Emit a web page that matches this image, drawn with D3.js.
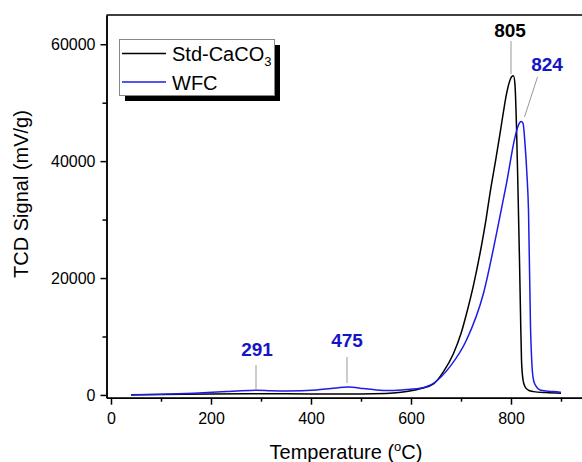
<!DOCTYPE html>
<html>
<head>
<meta charset="utf-8">
<script src="https://cdn.jsdelivr.net/npm/d3@7"></script>
<style>
  body { margin: 0; background: #fff; }
  svg { display: block; font-family: "Liberation Sans", Arial, sans-serif; }
</style>
</head>
<body>
<div class="chart"></div>
<script>
// data
var stdTemp = [40, 100, 200, 300, 400, 500, 550, 580, 600, 620, 645, 665, 685, 700, 711, 725, 738, 750, 758, 770, 778, 785, 791, 797, 802, 805, 808, 811, 814, 817, 819, 821, 824, 828, 835, 845, 870, 900];
var stdSignal = [50, 80, 150, 200, 180, 180, 250, 450, 700, 1100, 1900, 4000, 7100, 10500, 13900, 18800, 24200, 30000, 34500, 40500, 44700, 48500, 51500, 53600, 54500, 54600, 53000, 45900, 35000, 23000, 14000, 6000, 2600, 1400, 800, 570, 400, 300];

var wfcTemp = [40, 100, 165, 231, 260, 291, 320, 351, 411, 440, 475, 505, 531, 560, 598, 618, 645, 678, 711, 745, 771, 791, 808, 815, 820, 824, 828, 832, 835, 839, 842, 845, 850, 858, 875, 895, 900];
var wfcSignal = [0, 100, 290, 570, 720, 800, 720, 680, 850, 1100, 1370, 1100, 850, 750, 970, 1140, 2000, 4840, 9400, 17400, 27600, 36200, 44100, 46200, 46800, 46500, 43000, 37500, 31600, 11700, 5000, 2560, 1500, 850, 650, 500, 450];

var xTicks = [0, 200, 400, 600, 800];
var xMinor = [100, 300, 500, 700, 900];
var yTicks = [0, 20000, 40000, 60000];
var yMinor = [10000, 30000, 50000];

var seriesNames = ["Std-CaCO", "WFC"];
var seriesColors = ["#000000", "#1c1ce6"];

var svgWidth = 582;
var svgHeight = 462;

var svg = d3.select(".chart")
  .append("svg")
  .attr("width", svgWidth)
  .attr("height", svgHeight);

var x = d3.scaleLinear().domain([-9, 979]).range([106.5, 600.5]);
var y = d3.scaleLinear().domain([-470, 65000]).range([397.7, 15]);

// frame top line (right side is cut off in the picture)
svg.append("line")
  .attr("x1", x.range()[0]).attr("x2", 600)
  .attr("y1", y.range()[1]).attr("y2", y.range()[1])
  .attr("stroke", "#000").attr("stroke-width", 1.5);

// x axis
svg.append("g")
  .attr("transform", `translate(0, ${y.range()[0]})`)
  .call(d3.axisBottom(x).tickValues(xTicks).tickSize(7).tickSizeOuter(0).tickPadding(8).tickFormat(d3.format("d")));
svg.append("g")
  .attr("transform", `translate(0, ${y.range()[0]})`)
  .call(d3.axisBottom(x).tickValues(xMinor).tickSize(4).tickSizeOuter(0).tickFormat(""));

// y axis
svg.append("g")
  .attr("transform", `translate(${x.range()[0]}, 0)`)
  .call(d3.axisLeft(y).tickValues(yTicks).tickSize(6).tickSizeOuter(0).tickPadding(5).tickFormat(d3.format("d")));
svg.append("g")
  .attr("transform", `translate(${x.range()[0]}, 0)`)
  .call(d3.axisLeft(y).tickValues(yMinor).tickSize(4).tickSizeOuter(0).tickFormat(""));

svg.selectAll(".domain, .tick line")
  .attr("stroke", "#000").attr("stroke-width", 1.5);
svg.selectAll(".tick text")
  .attr("font-size", 16).attr("fill", "#000")
  .attr("font-family", "Liberation Sans, Arial, sans-serif");

// axis titles
var xTitle = svg.append("text")
  .attr("x", 346).attr("y", 459)
  .attr("text-anchor", "middle")
  .attr("font-size", 20)
  .text("Temperature (");
xTitle.append("tspan").attr("dy", -8).attr("font-size", 13).text("o");
xTitle.append("tspan").attr("dy", 8).text("C)");

svg.append("text")
  .attr("transform", "rotate(-90)")
  .attr("x", -194).attr("y", 28)
  .attr("text-anchor", "middle")
  .attr("font-size", 20)
  .text("TCD Signal (mV/g)");

// curves
var line = d3.line()
  .x(d => x(d[0]))
  .y(d => y(d[1]))
  .curve(d3.curveMonotoneX);

var stdData = stdTemp.map((t, i) => [t, stdSignal[i]]);
var wfcData = wfcTemp.map((t, i) => [t, wfcSignal[i]]);

svg.append("path").datum(stdData)
  .attr("d", line).attr("fill", "none")
  .attr("stroke", seriesColors[0]).attr("stroke-width", 1.5);
svg.append("path").datum(wfcData)
  .attr("d", line).attr("fill", "none")
  .attr("stroke", seriesColors[1]).attr("stroke-width", 1.5);

// peak leader lines and labels
var labelBlue = "#1414c8";
var peaks = [
  { text: "291", color: labelBlue, lx: 257, ly: 356, x1: 256, y1: 365, x2: 256, y2: 389 },
  { text: "475", color: labelBlue, lx: 347, ly: 347, x1: 347, y1: 357, x2: 347, y2: 383 },
  { text: "805", color: "#000", lx: 510, ly: 37, x1: 511, y1: 41, x2: 511, y2: 74 },
  { text: "824", color: labelBlue, lx: 547, ly: 71, x1: 537.5, y1: 77, x2: 524.5, y2: 117 }
];
svg.selectAll(".leader").data(peaks).enter()
  .append("line")
  .attr("x1", d => d.x1).attr("y1", d => d.y1)
  .attr("x2", d => d.x2).attr("y2", d => d.y2)
  .attr("stroke", "#999").attr("stroke-width", 1);
svg.selectAll(".peak").data(peaks).enter()
  .append("text")
  .attr("x", d => d.lx).attr("y", d => d.ly)
  .attr("text-anchor", "middle")
  .attr("font-size", 19).attr("font-weight", "bold")
  .attr("fill", d => d.color)
  .text(d => d.text);

// legend with drop shadow
var legend = svg.append("g");
legend.append("rect")
  .attr("x", 125).attr("y", 45).attr("width", 155).attr("height", 56)
  .attr("fill", "#000");
legend.append("rect")
  .attr("x", 119.5).attr("y", 39.5).attr("width", 155).attr("height", 56)
  .attr("fill", "#fff").attr("stroke", "#888").attr("stroke-width", 1);

seriesNames.forEach(function(name, i) {
  var ly = 53.5 + i * 28.5;
  legend.append("line")
    .attr("x1", 122).attr("x2", 166)
    .attr("y1", ly).attr("y2", ly)
    .attr("stroke", seriesColors[i]).attr("stroke-width", 1.5);
  var t = legend.append("text")
    .attr("x", 172).attr("y", ly + 7.5)
    .attr("font-size", 20)
    .text(name);
  if (i === 0) {
    t.append("tspan").attr("dy", 5).attr("font-size", 13).text("3");
  }
});
</script>
</body>
</html>
